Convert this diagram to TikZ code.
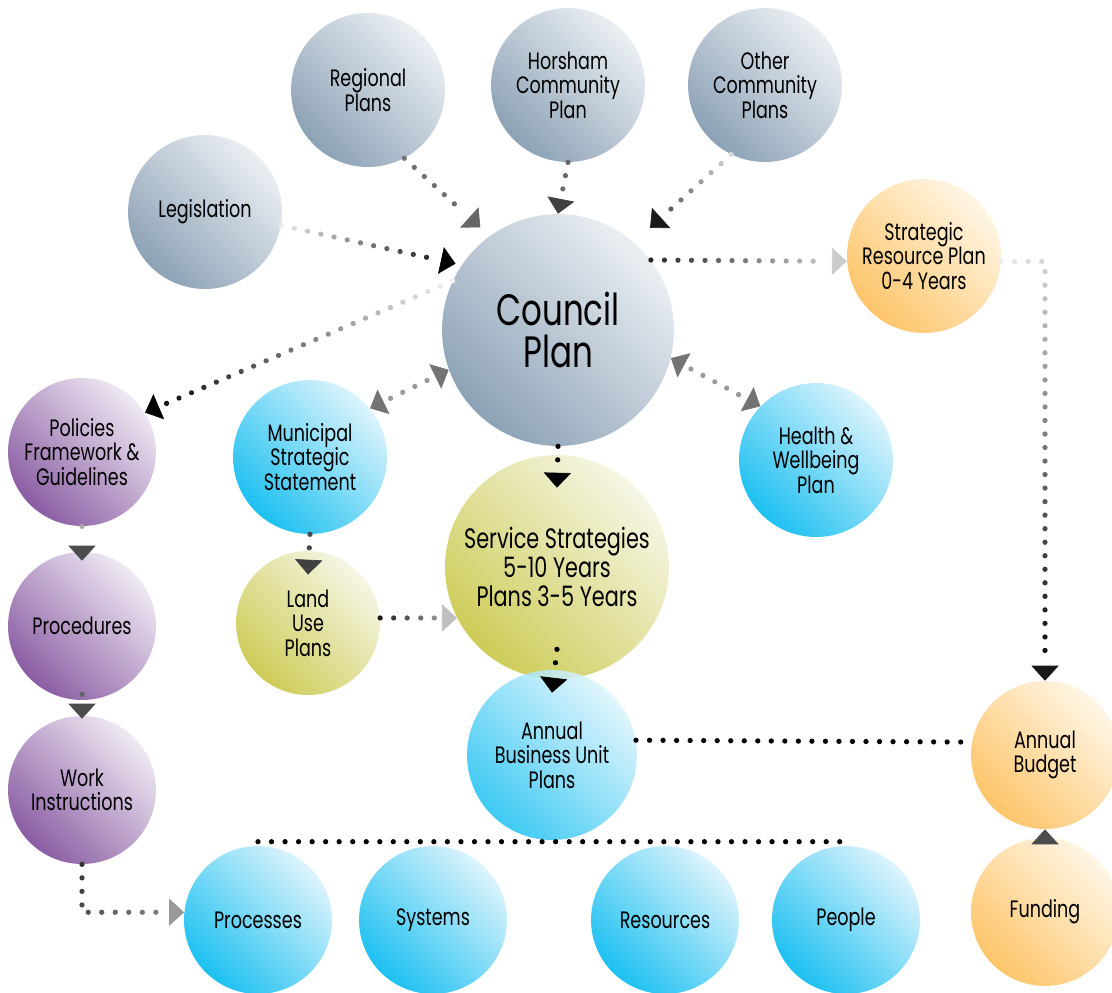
\documentclass[tikz,border=0pt]{standalone}
\usepackage{fontspec}
\setmainfont{Poppins}[FakeStretch=0.74]
\usetikzlibrary{arrows.meta,decorations.markings,calc}
\definecolor{slatedark}{HTML}{8DA2B6}
\definecolor{slatelight}{HTML}{EBEFF3}
\definecolor{amberdark}{HTML}{FDC56A}
\definecolor{amberlight}{HTML}{FFF6E6}
\definecolor{plumdark}{HTML}{8A5DA3}
\definecolor{plumlight}{HTML}{EFE9F3}
\definecolor{skydark}{HTML}{1DC0F1}
\definecolor{skylight}{HTML}{DDF4FC}
\definecolor{olivedark}{HTML}{CDCC58}
\definecolor{olivelight}{HTML}{F6F6E6}
\tikzset{
  bubble/.style={circle,inner sep=0pt,align=center,minimum size=#1*0.04cm,font=\fontsize{13.5}{14}\selectfont},
  slate/.style={bottom color=slatedark,top color=slatelight,shading angle=-45},
  amber/.style={bottom color=amberdark,top color=amberlight,shading angle=-45},
  plum/.style={bottom color=plumdark,top color=plumlight,shading angle=-45},
  sky/.style={bottom color=skydark,top color=skylight,shading angle=-45},
  olive/.style={bottom color=olivedark,top color=olivelight,shading angle=-45},
  flow/.style n args={4}{decoration={markings,
      mark=between positions 0 and -#4-12.5pt step 7.7pt with {\pgfmathsetmacro\shd{#1+(#2-#1)*(\pgfkeysvalueof{/pgf/decoration/mark info/distance from start}/\pgfdecoratedpathlength)}\fill[black!\shd] (0,0) circle (1.5pt);},
      mark=at position -#4-0.01pt with {\arrow[#3]{Triangle[length=8.5pt,width=15.5pt]}}},
    postaction={decorate}},
  twoway/.style={decoration={markings,
      mark=between positions 13pt and -13pt step 7.7pt with {\fill[black!40] (0,0) circle (1.5pt);},
      mark=at position 0.01pt with {\arrowreversed[black!55]{Triangle[length=8.5pt,width=15.5pt]}},
      mark=at position -0.01pt with {\arrow[black!55]{Triangle[length=8.5pt,width=15.5pt]}}},
    postaction={decorate}},
  dotrow/.style={decoration={markings,
      mark=between positions 0 and 1 step 7.7pt with {\fill[black] (0,0) circle (1.5pt);}},
    postaction={decorate}}
}
\begin{document}
\begin{tikzpicture}[x=0.02cm,y=-0.02cm]
\useasboundingbox (0,0) rectangle (1112,992);
\node[bubble=77,slate] (reg) at (368,90) {Regional\\Plans};
\node[bubble=77,slate] (hcp) at (568,85) {Horsham\\Community\\Plan};
\node[bubble=77,slate] (ocp) at (765,85) {Other\\Community\\Plans};
\node[bubble=77,slate] (leg) at (205,212) {Legislation};
\node[bubble=116,slate,font=\fontsize{25}{24}\selectfont] (cp) at (558,330) {Council\\Plan};
\node[bubble=77,amber] (srp) at (924,256) {Strategic\\Resource Plan\\0-4 Years};
\node[bubble=74,plum] (pfg) at (82,452) {Policies\\Framework \&\\Guidelines};
\node[bubble=77,sky] (mss) at (310,457) {Municipal\\Strategic\\Statement};
\node[bubble=77,sky] (hwp) at (816,460) {Health \&\\Wellbeing\\Plan};
\node[bubble=112,olive,font=\fontsize{16}{16.5}\selectfont] (ss) at (557,567) {Service Strategies\\5-10 Years\\Plans 3-5 Years};
\node[bubble=74,plum] (pcd) at (82,626) {Procedures};
\node[bubble=72,olive] (lup) at (308,623) {Land\\Use\\Plans};
\node[bubble=85,sky,fill opacity=0.85,text opacity=1] (abu) at (552,755) {Annual\\Business Unit\\Plans};
\node[bubble=74,amber] (bud) at (1045,755) {Annual\\Budget};
\node[bubble=74,plum] (wi) at (82,790) {Work\\Instructions};
\node[bubble=74,amber] (fund) at (1045,912) {Funding};
\node[bubble=74,sky] (pcs) at (258,920) {Processes};
\node[bubble=74,sky] (sys) at (433,920) {Systems};
\node[bubble=74,sky] (res) at (665,920) {Resources};
\node[bubble=74,sky] (peo) at (846,920) {People};

\path[flow={55}{60}{black!60}{7pt}] (reg.-62) -- (cp.126);
\path[flow={60}{55}{black!75}{0pt}] (hcp.south) -- (cp.north);
\path[flow={15}{90}{black!90}{12pt}] (ocp.-116) -- (cp.49);
\path[flow={8}{100}{black}{3.5pt}] (leg.-10) -- (cp.146);
\path[flow={5}{100}{black}{0pt}] (cp.155) -- (pfg.32);
\path[flow={85}{15}{black!20}{0pt}] (cp.37) -- (srp.184);
\path[flow={8}{100}{black!90}{0pt}] (srp.-4) -| (bud.north);
\path[twoway] (mss.39) -- (cp.200);
\path[twoway] (cp.-14) -- (hwp.136);
\path[flow={100}{100}{black}{0pt}] (cp.south) -- ([yshift=-0.66cm]ss.north);
\path[flow={70}{75}{black!75}{0pt}] (mss.south) -- ([yshift=-0.48cm]lup.north);
\path[flow={90}{25}{black!25}{0pt}] (lup.4) -- (ss.207);
\path[flow={100}{100}{black}{0pt}] ([yshift=0.6cm]ss.south) -- ([yshift=-0.46cm]abu.north);
\path[dotrow] (abu.10) -- (bud.170);
\path[flow={35}{35}{black!70}{0pt}] (pfg.south) -- ([yshift=-0.18cm]pcd.north);
\path[flow={60}{60}{black!70}{0pt}] ([yshift=0.12cm]pcd.south) -- ([yshift=-0.06cm]wi.north);
\path[flow={80}{45}{black!40}{0pt}] (wi.south) |- (pcs.174);
\path[flow={75}{75}{black!70}{0pt}] ([yshift=-0.22cm]fund.north) -- (bud.south);
\path[dotrow] ([yshift=0.08cm]pcs.north) -- ([yshift=0.08cm]peo.north);
\end{tikzpicture}
\end{document}
